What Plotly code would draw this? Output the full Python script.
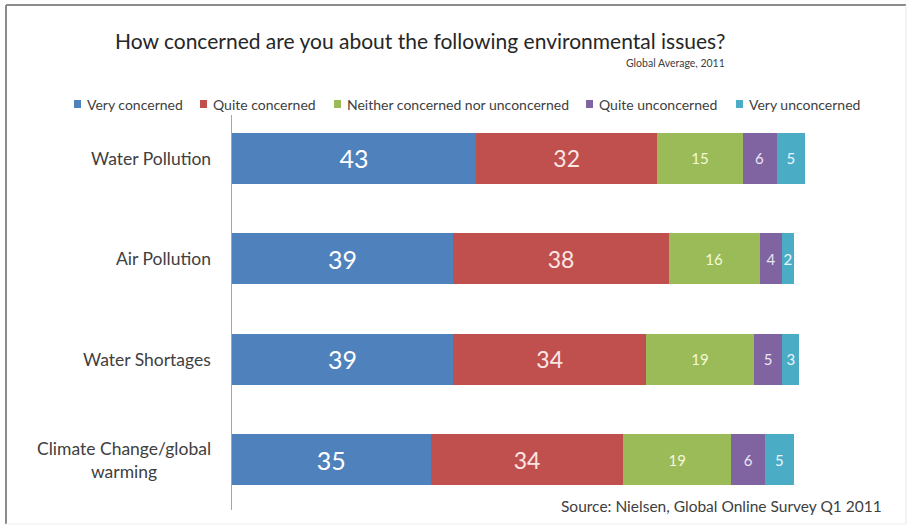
import plotly.graph_objects as go

categories = ["Water Pollution", "Air Pollution", "Water Shortages", "Climate Change/global<br>warming"]
series_names = ["Very concerned", "Quite concerned", "Neither concerned nor unconcerned",
                "Quite unconcerned", "Very unconcerned"]
very_concerned = [43, 39, 39, 35]
quite_concerned = [32, 38, 34, 34]
neither = [15, 16, 19, 19]
quite_unconcerned = [6, 4, 5, 6]
very_unconcerned = [5, 2, 3, 5]

series_values = [very_concerned, quite_concerned, neither, quite_unconcerned, very_unconcerned]

# styles / layout
colors = ["#4F81BD", "#C0504D", "#9BBB59", "#8064A2", "#4BACC6"]
label_sizes = [25, 23, 15, 15, 15]
label_colors = ["#FFFFFF", "#FBE6E6", "#F4F8D8", "#ECE6F4", "#EAF6FA"]
legend_text_x = [85, 211, 345, 597, 747]   # pixel positions of legend entries

W, H = 909, 528
L, R, T, B = 232, 53, 115, 18
PW, PH = W - L - R, H - T - B
FONT = "Lato"

fig = go.Figure()
for name, vals, col, fs, lc in zip(series_names, series_values, colors, label_sizes, label_colors):
    fig.add_trace(go.Bar(
        y=list(range(len(categories))), x=vals, name=name, orientation="h",
        marker=dict(color=col, line=dict(width=0)),
        text=[str(v) for v in vals], textposition="inside", insidetextanchor="middle",
        constraintext="none", cliponaxis=False,
        textfont=dict(family=FONT, size=fs, color=lc),
        hoverinfo="skip",
    ))

def px_x(p):
    return (p - L) / PW

def px_y(p):
    return 1 - (p - T) / PH

annotations = []
for i, c in enumerate(categories):
    annotations.append(dict(x=0, y=i, xref="x", yref="y", text=c, showarrow=False,
                            xanchor="right", yanchor="middle", xshift=-19, align="center",
                            font=dict(family=FONT, size=17.5, color="#404040")))
annotations += [
    dict(x=px_x(420), y=px_y(41), xref="paper", yref="paper",
         text="How concerned are you about the following environmental issues?",
         showarrow=False, xanchor="center", yanchor="middle",
         font=dict(family=FONT, size=21, color="#262626")),
    dict(x=px_x(727), y=px_y(63), xref="paper", yref="paper", text="Global Average, 2011",
         showarrow=False, xanchor="right", yanchor="middle",
         font=dict(family=FONT, size=10.5, color="#404040")),
    dict(x=px_x(884), y=px_y(506), xref="paper", yref="paper",
         text="Source: Nielsen, Global Online Survey Q1 2011",
         showarrow=False, xanchor="right", yanchor="middle",
         font=dict(family=FONT, size=15.5, color="#404040")),
]

shapes = [
    dict(type="line", xref="paper", yref="paper", x0=px_x(6), x1=px_x(906), y0=px_y(5), y1=px_y(5),
         line=dict(color="#8C8C8C", width=2)),
    dict(type="line", xref="paper", yref="paper", x0=px_x(6), x1=px_x(6), y0=px_y(5), y1=px_y(524),
         line=dict(color="#8C8C8C", width=2)),
    dict(type="line", xref="paper", yref="paper", x0=px_x(906), x1=px_x(906), y0=px_y(5), y1=px_y(524),
         line=dict(color="#E6E6E6", width=1)),
    dict(type="line", xref="paper", yref="paper", x0=px_x(6), x1=px_x(906), y0=px_y(524), y1=px_y(524),
         line=dict(color="#EEEEEE", width=1)),
]

# legend (squares + text), built from series names and colours
LEG_Y = 104
for name, col, tx in zip(series_names, colors, legend_text_x):
    shapes.append(dict(type="rect", xref="paper", yref="paper",
                       x0=px_x(tx - 11), x1=px_x(tx - 4), y0=px_y(LEG_Y - 4), y1=px_y(LEG_Y + 4),
                       fillcolor=col, line=dict(width=0)))
    annotations.append(dict(x=px_x(tx), y=px_y(LEG_Y), xref="paper", yref="paper", text=name,
                            showarrow=False, xanchor="left", yanchor="middle",
                            font=dict(family=FONT, size=14, color="#404040")))

fig.update_layout(
    width=W, height=H, margin=dict(l=L, r=R, t=T, b=B),
    barmode="stack", bargap=0.49,
    paper_bgcolor="white", plot_bgcolor="white",
    showlegend=False,
    xaxis=dict(range=[0, 110], visible=False, fixedrange=True),
    yaxis=dict(range=[3.5, -0.43], showticklabels=False, showgrid=False, zeroline=False,
               showline=True, linecolor="#A6A6A6", linewidth=1, ticks="", fixedrange=True),
    annotations=annotations, shapes=shapes,
)

fig.write_html("out.html", config={"displayModeBar": False},
               post_script="document.body.style.margin='0';document.body.style.overflow='hidden';")
